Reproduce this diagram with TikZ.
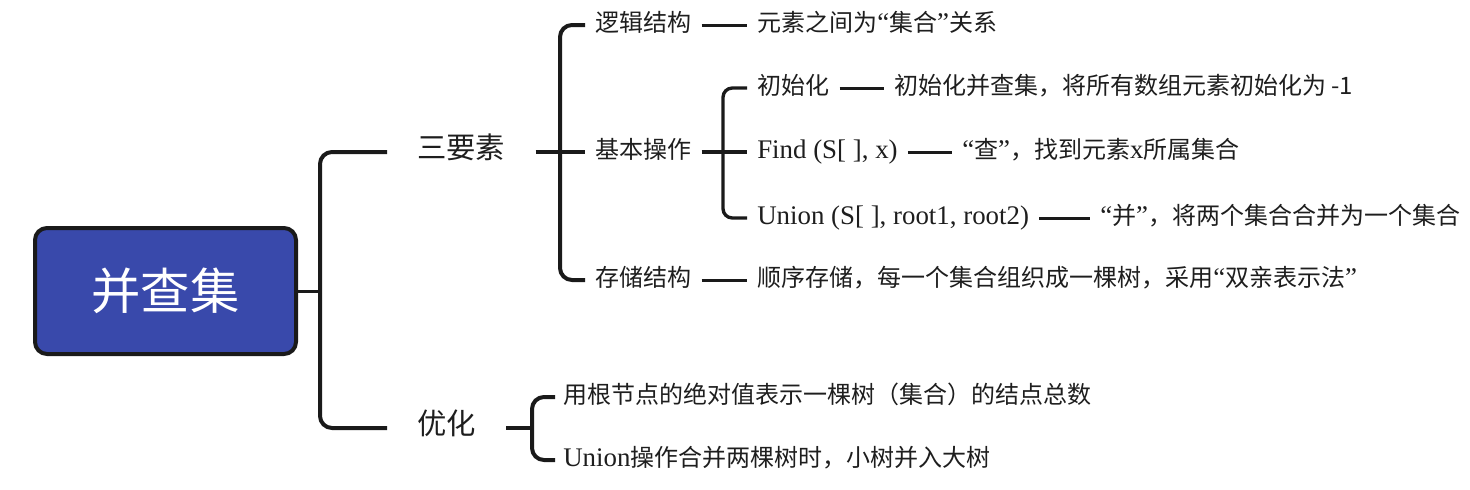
\documentclass[tikz,border=0pt]{standalone}
\usepackage{fontspec}
\setmainfont{Noto Sans CJK SC}
\newfontfamily\cjk{Noto Sans CJK SC}
\newfontfamily\lat[Scale=1.12]{Liberation Serif}
\definecolor{rootblue}{HTML}{3949AB}
\definecolor{linec}{HTML}{1A1A1A}
\definecolor{txt}{HTML}{1E1E1E}
\tikzset{
  root/.style={draw=linec, line width=3pt, fill=rootblue, rounded corners=9pt,
    minimum width=195.75pt, minimum height=94.5pt, inner sep=0pt, text=white,
    font=\cjk\fontsize{37}{40}\selectfont},
  lvtwo/.style={anchor=west, inner xsep=22.5pt, inner ysep=0pt, text=txt,
    font=\cjk\fontsize{22}{26}\selectfont, text height=1.0em, text depth=0pt},
  lvthree/.style={anchor=west, inner xsep=7.5pt, inner ysep=0pt, text=txt,
    font=\cjk\fontsize{18}{21}\selectfont, text height=1.0em, text depth=0pt},
  lvtwodesc/.style={lvthree, inner xsep=6pt},
  thick1/.style={draw=linec, line width=3pt, rounded corners=9pt},
  thick2/.style={draw=linec, line width=2.5pt, rounded corners=7pt},
  rootlink/.style={draw=linec, line width=2.25pt},
  dashline/.style={draw=linec, line width=2.25pt},
}
\begin{document}
\begin{tikzpicture}[x=0.75pt, y=-0.75pt]
\useasboundingbox (0,0) rectangle (1470,489);
% root
\node[root] (root) at (165.5,291) {并查集};
\coordinate (j0) at (320,291);
% level 2
\node[lvtwo] (sy) at (387,152) {三要素};
\node[lvtwo] (yh) at (387,428) {优化};
\draw[rootlink] (root.east) -- (j0);
\draw[thick1] (sy.west) -| (j0) |- (yh.west);
% level 3 under 三要素
\coordinate (j1) at (560,152);
\node[lvthree] (lj) at (585,25) {逻辑结构};
\node[lvthree] (jb) at (585,152) {基本操作};
\node[lvthree] (cc) at (585,280) {存储结构};
\draw[thick1] (sy.east) -- (j1);
\draw[thick1] (lj.west) -| (j1) |- (cc.west);
\draw[thick1] (j1) -- (jb.west);
% descriptions
\node[lvthree] (ljd) at (747,25) {元素之间为{\lat “}集合{\lat ”}关系};
\node[lvthree] (ccd) at (747,280) {顺序存储，每一个集合组织成一棵树，采用{\lat “}双亲表示法{\lat ”}};
\draw[dashline] (lj.east) -- (ljd.west);
\draw[dashline] (cc.east) -- (ccd.west);
% level 4 under 基本操作
\coordinate (j2) at (723,152);
\node[lvthree] (csh) at (747,88) {初始化};
\node[lvthree] (fd) at (747,152) {\lat Find (S[ ], x)};
\node[lvthree] (un) at (747,218) {\lat Union (S[ ], root1, root2)};
\draw[thick2] (jb.east) -- (j2);
\draw[thick2] (csh.west) -| (j2) |- (un.west);
\draw[thick2] (j2) -- (fd.west);
\node[lvthree] (cshd) at (884,88) {初始化并查集，将所有数组元素初始化为 -1};
\node[lvthree] (fdd) at (952,152) {{\lat “}查{\lat ”}，找到元素{\lat x}所属集合};
\node[lvthree] (und) at (1090,218) {{\lat “}并{\lat ”}，将两个集合合并为一个集合};
\draw[dashline] (csh.east) -- (cshd.west);
\draw[dashline] (fd.east) -- (fdd.west);
\draw[dashline] (un.east) -- (und.west);
% level 3 under 优化
\coordinate (j3) at (532,428);
\node[lvtwodesc] (y1) at (555,397) {用根节点的绝对值表示一棵树（集合）的结点总数};
\node[lvtwodesc] (y2) at (555,460) {{\lat Union}操作合并两棵树时，小树并入大树};
\draw[thick1] (yh.east) -- (j3);
\draw[thick1] (y1.west) -| (j3) |- (y2.west);
\end{tikzpicture}
\end{document}
